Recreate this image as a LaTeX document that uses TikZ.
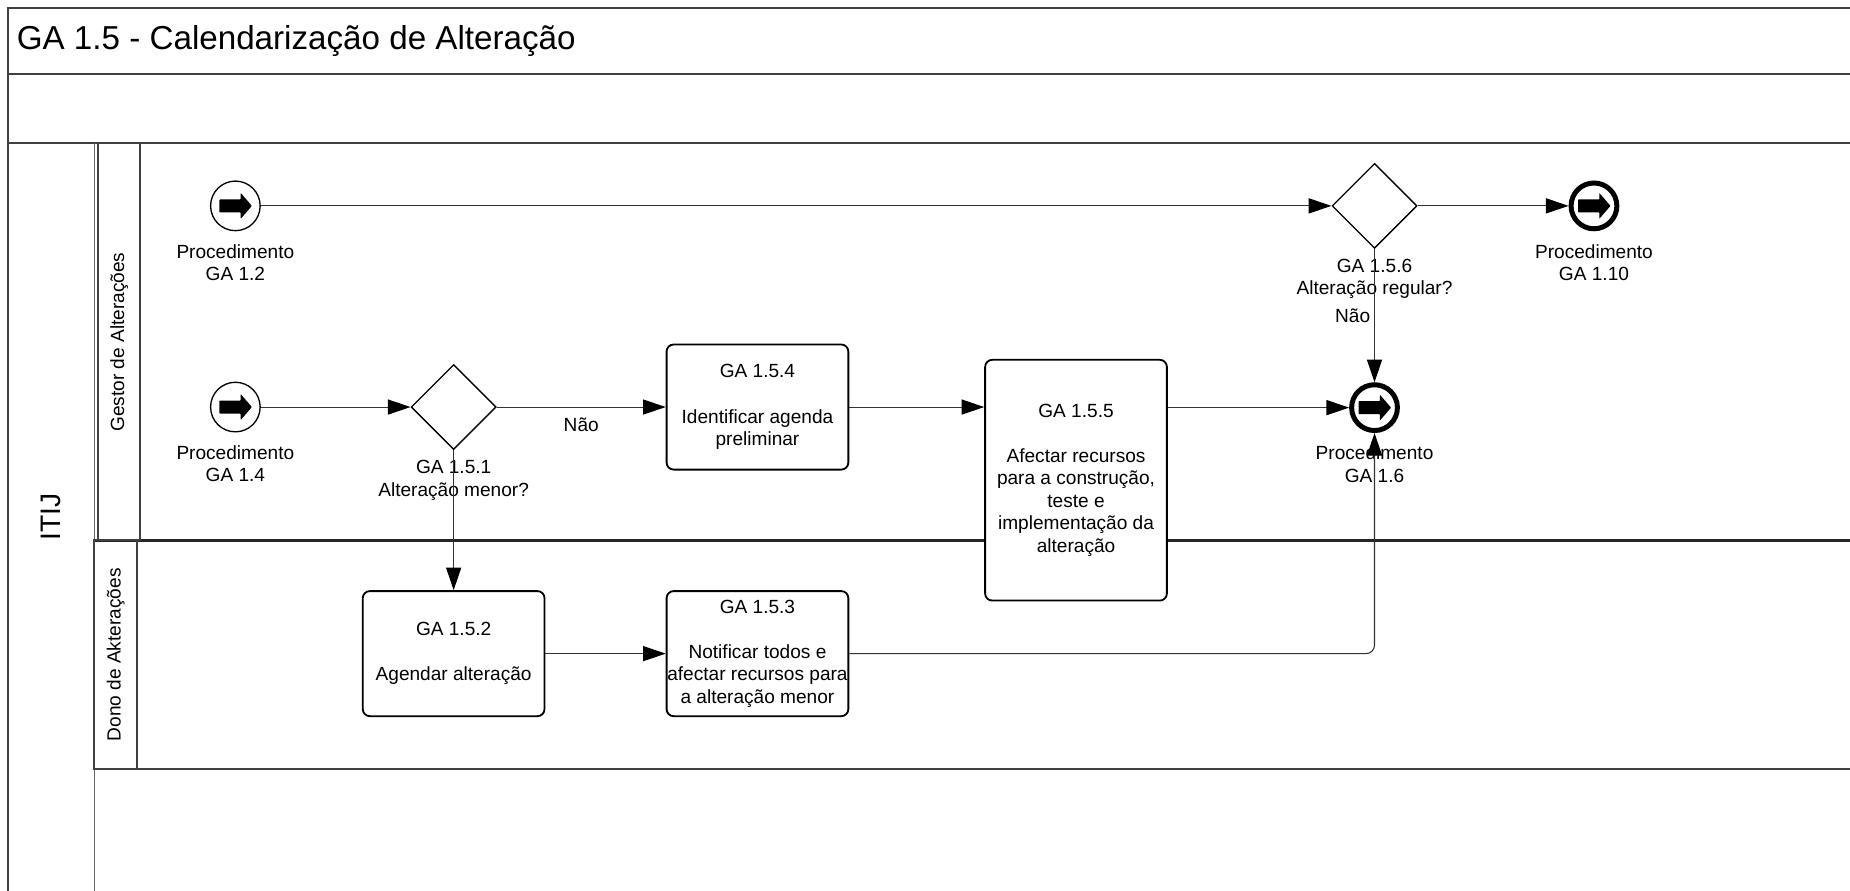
\documentclass[tikz,border=0pt]{standalone}
\usepackage{fontspec}
\setmainfont{Liberation Sans}
\usetikzlibrary{calc,positioning,arrows.meta,shapes.geometric}
\newcommand{\flowarrowstyle}{-{Triangle[length=0.48cm,width=0.32cm,color=black]}}
% filled block arrow inside the event circles
\newcommand{\evarrow}[1]{%
  \begin{scope}[shift={(#1.center)}]
    \fill[rounded corners=0.4pt] (-13.5,-5.5) -- (4.5,-5.5) -- (4.5,-11) -- (14,0)
      -- (4.5,11) -- (4.5,5.5) -- (-13.5,5.5) -- cycle;
  \end{scope}}

\begin{document}
\begin{tikzpicture}[
    x=0.025cm, y=-0.025cm,
    font=\fontsize{11.5}{13.6}\selectfont,
    flow/.style={\flowarrowstyle, line width=0.65pt, black!80},
    frame/.style={line width=1.1pt, black!75},
    thinframe/.style={line width=0.6pt, black!60},
    task/.style={draw, fill=white, line width=1.1pt, rounded corners=0.15cm, minimum width=3.85cm,
      minimum height=2.65cm, inner xsep=0pt, align=center},
    gate/.style={diamond, draw, fill=white, line width=0.8pt, aspect=1, minimum width=1.8cm,
      minimum height=1.8cm, inner sep=0pt},
    startev/.style={circle, draw, fill=white, line width=0.8pt, minimum size=1.05cm, inner sep=0pt},
    endev/.style={circle, draw, fill=white, line width=3pt, minimum size=0.97cm, inner sep=0pt},
    lbl/.style={align=center, inner sep=0pt, text=black}
]
  \useasboundingbox (0,0) rectangle (1568,755);

  % pool frame and lanes
  \draw[frame] (1568,7) -- (7,7) -- (7,755);
  \draw[frame] (7,63) -- (1568,63);
  \draw[frame] (7,121) -- (1568,121);
  \draw[thinframe] (80,121) -- (80,755);
  \draw[line width=2.2pt, black!85] (80,458) -- (1568,458);
  \draw[frame] (80,652) -- (1568,652);
  \draw[frame] (83,121) rectangle (119,458);
  \draw[frame] (80,458) rectangle (116,652);

  \node[anchor=west, inner sep=0pt, font=\fontsize{20}{24}\selectfont] (title) at (14,35)
    {GA 1.5 - Calendarização de Alteração};
  \node[rotate=90, font=\fontsize{17}{20}\selectfont] (pool) at (43.5,438) {ITIJ};
  \node[rotate=90] (lanegestor) at (101,290) {Gestor de Alterações};
  \node[rotate=90] (lanedono) at (98,555) {Dono de Akterações};

  % events and gateways
  \node[startev] (s12) at (199.5,174.5) {};
  \node[startev] (s14) at (199.5,345) {};
  \node[gate] (gw151) at (384.5,345) {};
  \node[gate] (gw156) at (1165,174.5) {};
  \node[endev] (e110) at (1351,174.5) {};
  \node[endev] (e16) at (1165,345.5) {};
  \evarrow{s12}
  \evarrow{s14}
  \evarrow{e110}
  \evarrow{e16}

  \node[lbl] (s12lbl) at ($(s12)+(0,48)$) {Procedimento\\GA 1.2};
  \node[lbl] (s14lbl) at ($(s14)+(0,48)$) {Procedimento\\GA 1.4};
  \node[lbl] (e110lbl) at ($(e110)+(0,48)$) {Procedimento\\GA 1.10};
  \node[lbl] (e16lbl) at ($(e16)+(0,48)$) {Procedimento\\GA 1.6};
  \node[lbl] (gw151lbl) at ($(gw151)+(0,62)$) {GA 1.5.1\\Alteração menor?};
  \node[lbl] (gw156lbl) at ($(gw156)+(0,62)$) {GA 1.5.6\\Alteração regular?};

  % tasks
  \node[task] (t154) at (642,345) {GA 1.5.4\\[\baselineskip]Identificar agenda\\preliminar};
  \node[task, minimum height=5.1cm] (t155) at (912,407)
    {GA 1.5.5\\[\baselineskip]Afectar recursos\\para a construção,\\teste e\\implementação da\\alteração};
  \node[task] (t152) at (384.5,554) {GA 1.5.2\\[\baselineskip]Agendar alteração};
  \node[task] (t153) at (642,554)
    {GA 1.5.3\\[\baselineskip]Notificar todos e\\afectar recursos para\\a alteração menor};

  % sequence flows
  \draw[flow] (s12) -- (gw156);
  \draw[flow] (gw156) -- (e110);
  \draw[flow] (gw156) -- node[lbl, left=0.08cm] (naolbl2) {Não} (e16);
  \draw[flow] (s14) -- (gw151);
  \draw[flow] (gw151) -- node[lbl, below=0.22cm] (naolbl1) {Não} (t154);
  \draw[flow] (gw151) -- (t152);
  \draw[flow] (t154) -- (t155.west |- t154.east);
  \draw[flow] (t155.east |- e16) -- (e16);
  \draw[flow] (t152) -- (t153);
  \draw[flow, rounded corners=0.18cm] (t153) -| (e16);
\end{tikzpicture}
\end{document}
